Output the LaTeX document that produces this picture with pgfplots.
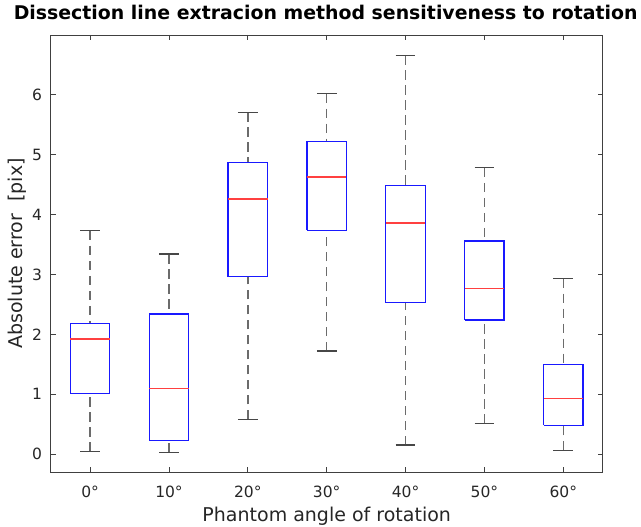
\documentclass[border=0pt]{standalone}
\usepackage{fontspec}
\setmainfont{DejaVu Sans}
\usepackage{pgfplots}
\pgfplotsset{compat=1.18}
\definecolor{axcol}{gray}{0.25}
\definecolor{txtcol}{gray}{0.15}
\definecolor{whisk}{gray}{0.42}
\definecolor{capc}{gray}{0.28}
\definecolor{boxblue}{rgb}{0.1,0.1,1}
\definecolor{medred}{rgb}{1,0.25,0.25}
\begin{document}
\begin{tikzpicture}
\begin{axis}[
  scale only axis, width=552bp, height=437bp,
  xmin=0.5, xmax=7.5, ymin=-0.3, ymax=7,
  xtick={1,2,3,4,5,6,7},
  xticklabels={0°,10°,20°,30°,40°,50°,60°},
  ytick={0,1,2,3,4,5,6},
  tick align=inside, major tick length=5bp,
  axis line style={axcol, line width=0.8bp},
  tick style={axcol, line width=0.8bp},
  unbounded coords=jump,
  /pgf/number format/assume math mode=true,
  ticklabel style={font=\fontsize{15.5bp}{18bp}\selectfont, text=txtcol, inner sep=0pt},
  xticklabel style={anchor=base, yshift=-25.7bp},
  yticklabel style={anchor=east, xshift=-8.5bp},
  xlabel={Phantom angle of rotation},
  ylabel={Absolute error\ \ [pix]},
  label style={font=\fontsize{19bp}{22bp}\selectfont, text=txtcol, inner sep=0pt},
  xlabel style={at={(axis description cs:0.5,-0.1144)}, anchor=base},
  ylabel style={at={(axis description cs:-0.0507,0.5)}, anchor=base, rotate=0},
  title={Dissection line extracion method sensitiveness to rotation},
  title style={at={(axis description cs:0.5,1)}, anchor=base, yshift=10bp, xshift=-1bp, inner sep=0pt,
    font=\bfseries\fontsize{18.9bp}{22bp}\selectfont, text=black},
]
% whiskers (dashed), from whisker end to quartile
\addplot[whisk, line width=1.5bp, dash pattern=on 9.5bp off 5.5bp, mark=none] coordinates {
(1,3.73) (1,2.18) (nan,nan) (1,0.04) (1,1.01) (nan,nan)
(2,3.34) (2,2.34) (nan,nan) (2,0.02) (2,0.23) (nan,nan)
(3,5.71) (3,4.87) (nan,nan) (3,0.58) (3,2.96) (nan,nan)
(4,6.02) (4,5.22) (nan,nan) (4,1.72) (4,3.74) (nan,nan)
(5,6.66) (5,4.49) (nan,nan) (5,0.15) (5,2.53) (nan,nan)
(6,4.78) (6,3.56) (nan,nan) (6,0.51) (6,2.24) (nan,nan)
(7,2.93) (7,1.49) (nan,nan) (7,0.06) (7,0.48)
};
% whisker caps
\addplot[capc, line width=1.2bp, mark=none] coordinates {
(0.875,3.73) (1.125,3.73) (nan,nan) (0.875,0.04) (1.125,0.04) (nan,nan)
(1.875,3.34) (2.125,3.34) (nan,nan) (1.875,0.02) (2.125,0.02) (nan,nan)
(2.875,5.71) (3.125,5.71) (nan,nan) (2.875,0.58) (3.125,0.58) (nan,nan)
(3.875,6.02) (4.125,6.02) (nan,nan) (3.875,1.72) (4.125,1.72) (nan,nan)
(4.875,6.66) (5.125,6.66) (nan,nan) (4.875,0.15) (5.125,0.15) (nan,nan)
(5.875,4.78) (6.125,4.78) (nan,nan) (5.875,0.51) (6.125,0.51) (nan,nan)
(6.875,2.93) (7.125,2.93) (nan,nan) (6.875,0.06) (7.125,0.06)
};
% boxes (lower quartile to upper quartile)
\addplot[boxblue, line width=1.3bp, mark=none, line join=miter] coordinates {
(0.75,1.01) (1.25,1.01) (1.25,2.18) (0.75,2.18) (0.75,1.01) (nan,nan)
(1.75,0.23) (2.25,0.23) (2.25,2.34) (1.75,2.34) (1.75,0.23) (nan,nan)
(2.75,2.96) (3.25,2.96) (3.25,4.87) (2.75,4.87) (2.75,2.96) (nan,nan)
(3.75,3.74) (4.25,3.74) (4.25,5.22) (3.75,5.22) (3.75,3.74) (nan,nan)
(4.75,2.53) (5.25,2.53) (5.25,4.49) (4.75,4.49) (4.75,2.53) (nan,nan)
(5.75,2.24) (6.25,2.24) (6.25,3.56) (5.75,3.56) (5.75,2.24) (nan,nan)
(6.75,0.48) (7.25,0.48) (7.25,1.49) (6.75,1.49) (6.75,0.48)
};
% medians
\addplot[medred, line width=1.3bp, mark=none] coordinates {
(0.75,1.92) (1.25,1.92) (nan,nan)
(1.75,1.10) (2.25,1.10) (nan,nan)
(2.75,4.26) (3.25,4.26) (nan,nan)
(3.75,4.63) (4.25,4.63) (nan,nan)
(4.75,3.86) (5.25,3.86) (nan,nan)
(5.75,2.76) (6.25,2.76) (nan,nan)
(6.75,0.93) (7.25,0.93)
};
\end{axis}
\pgfresetboundingbox
\path[use as bounding box] ([xshift=-50.7bp,yshift=-55bp]current axis.south west) rectangle ([xshift=38.3bp,yshift=35bp]current axis.north east);
\end{tikzpicture}
\end{document}
